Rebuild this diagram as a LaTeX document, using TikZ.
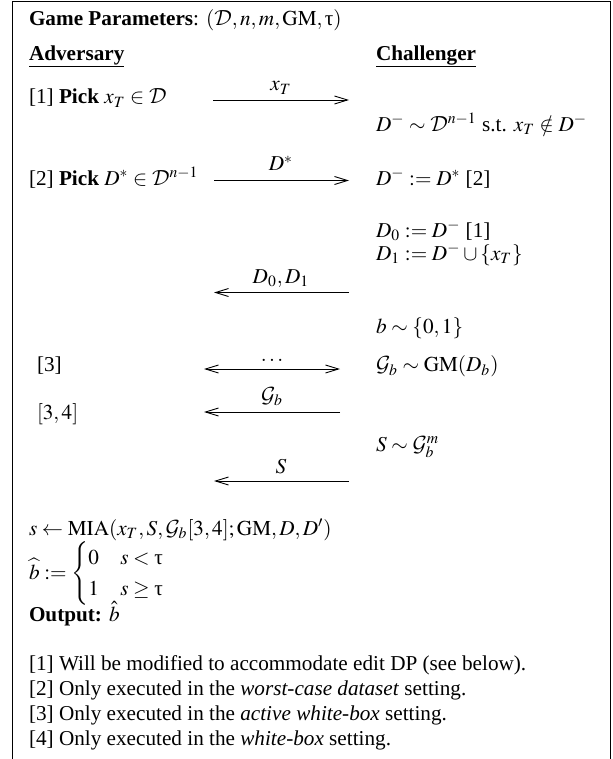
\documentclass[tikz,border=0pt]{standalone}
\usepackage{amsmath}
\usepackage{mathptmx}
\usepackage{fontspec}
\setmainfont{Liberation Serif}
\DeclareMathAlphabet{\mathcal}{OMS}{lmsy}{m}{n}
\newcommand{\utau}{\text{τ}}
\usetikzlibrary{arrows.meta,calc}
\begin{document}
\begin{tikzpicture}[x=0.5pt,y=-0.5pt,
  every node/.style={font=\fontsize{10.6}{12.7}\selectfont},
  txt/.style={anchor=base west,inner sep=0pt,outer sep=0pt},
  lbl/.style={anchor=base,inner sep=0pt,outer sep=0pt},
  tip/.tip={Straight Barb[length=6.5pt,width=4pt]},
  msg/.style={line width=0.45pt,-tip},
  msgb/.style={line width=0.45pt,tip-tip},
  uline/.style={line width=0.5pt},
  frame/.style={line width=0.5pt}]
\useasboundingbox (0,0) rectangle (613,759);
\draw[frame] (12.5,775) -- (12.5,1.5) -- (610.5,1.5) -- (610.5,775);

\node[txt] (gp) at (29,26) {\textbf{Game Parameters}: $(\mathcal{D},n,m,\mathrm{GM},\utau)$};

\node[txt] (adv) at (29,61) {\textbf{Adversary}};
\node[txt] (chal) at (376,61) {\textbf{Challenger}};
\draw[uline] ($(adv.base west)+(0,6)$) -- ($(adv.base east)+(0,6)$);
\draw[uline] ($(chal.base west)+(0,6)$) -- ($(chal.base east)+(0,6)$);

% step 1
\node[txt] (p1) at (29,104) {[1] \textbf{Pick} $x_T\in\mathcal{D}$};
\coordinate (a1s) at (213,100);
\coordinate (a1e) at (349,100);
\draw[msg] (a1s) -- (a1e);
\node[lbl] (l1) at (281,91) {$x_T$};
\node[txt] (c1) at (376,131.5) {$D^-\sim\mathcal{D}^{n-1}$ s.t. $x_T\notin D^-$};

% step 2
\node[txt] (p2) at (29,185) {[2] \textbf{Pick} $D^*\in\mathcal{D}^{n-1}$};
\coordinate (a2s) at (214,180.5);
\coordinate (a2e) at (349,180.5);
\draw[msg] (a2s) -- (a2e);
\node[lbl] (l2) at (281,171) {$D^*$};
\node[txt] (c2) at (376,185) {$D^- := D^*$ [2]};

\node[txt] (c3) at (376,237.5) {$D_0 := D^-$ [1]};
\node[txt] (c4) at (376,260) {$D_1 := D^-\cup\{x_T\}$};
\coordinate (a3s) at (349,292.5);
\coordinate (a3e) at (214,292.5);
\draw[msg] (a3s) -- (a3e);
\node[lbl] (l3) at (281,283) {$D_0,D_1$};

\node[txt] (c5) at (376,333) {$b\sim\{0,1\}$};

% step 3
\node[txt] (p3) at (37,371.5) {[3]};
\coordinate (a4s) at (204,369);
\coordinate (a4e) at (340,369);
\draw[msgb] (a4s) -- (a4e);
\node[lbl] (l4) at (272,361) {$\ldots$};
\node[txt] (c6) at (376,371.5) {$\mathcal{G}_b\sim\mathrm{GM}(D_b)$};

\node[txt] (p4) at (37,419.5) {$[3,4]$};
\coordinate (a5s) at (340,412);
\coordinate (a5e) at (204,412);
\draw[msg] (a5s) -- (a5e);
\node[lbl] (l5) at (272,402) {$\mathcal{G}_b$};

\node[txt] (c7) at (376,451) {$S\sim\mathcal{G}_b^m$};
\coordinate (a6s) at (349,481);
\coordinate (a6e) at (214,481);
\draw[msg] (a6s) -- (a6e);
\node[lbl] (l6) at (281,473) {$S$};

% output
\node[txt] (mia) at (29,535) {$s\leftarrow\mathrm{MIA}(x_T,S,\mathcal{G}_b[3,4];\mathrm{GM},D,D')$};
\node[txt] (bh) at (29,579) {$\widehat{b} := \begin{cases}0 & s<\utau\\ 1 & s\geq\utau\end{cases}$};
\node[txt] (out) at (29,621) {\textbf{Output:} $\hat{b}$};

% notes
\node[txt] (n1) at (29,670) {[1] Will be modified to accommodate edit DP (see below).};
\node[txt] (n2) at (29,695) {[2] Only executed in the \textit{worst-case dataset} setting.};
\node[txt] (n3) at (29,720.5) {[3] Only executed in the \textit{active white-box} setting.};
\node[txt] (n4) at (29,745) {[4] Only executed in the \textit{white-box} setting.};
\end{tikzpicture}
\end{document}
